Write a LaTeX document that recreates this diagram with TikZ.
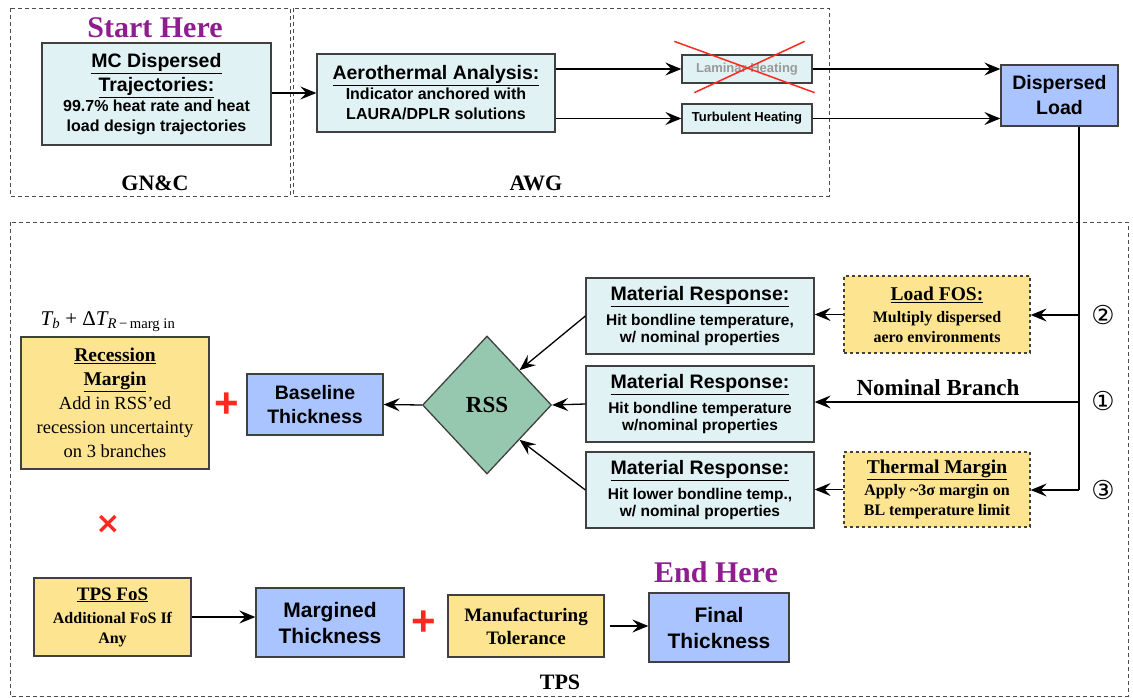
\documentclass[tikz,border=0pt]{standalone}
\usepackage{fontspec}
\setmainfont{Liberation Serif}
\setsansfont{Liberation Sans}
\newfontfamily\symfont{DejaVu Sans}
\usetikzlibrary{arrows.meta, positioning, shapes.geometric, calc}

\definecolor{boxcyan}{RGB}{225,242,244}
\definecolor{boxyellow}{RGB}{253,228,144}
\definecolor{boxblue}{RGB}{170,196,255}
\definecolor{rssgreen}{RGB}{150,200,175}
\definecolor{herepurple}{RGB}{142,30,142}
\definecolor{crossred}{RGB}{255,40,30}

\begin{document}
\begin{tikzpicture}[
    x=1pt, y=-1pt,
    % === STYLES ===
    infobox/.style={
        rectangle,
        draw=black!75,
        fill=boxcyan,
        line width=1.3pt,
        font=\sffamily\bfseries\fontsize{16}{20}\selectfont,
        align=center,
        inner sep=1pt
    },
    marginbox/.style={
        rectangle,
        draw=black!75,
        fill=boxyellow,
        line width=1.3pt,
        font=\rmfamily\bfseries\fontsize{16}{20}\selectfont,
        align=center,
        inner sep=1pt
    },
    thickbox/.style={
        rectangle,
        draw=black!75,
        fill=boxblue,
        line width=1.3pt,
        font=\sffamily\bfseries\fontsize{21}{26}\selectfont,
        align=center,
        inner sep=1pt
    },
    frame/.style={
        draw=black!70,
        dash pattern=on 4pt off 3pt,
        line width=0.9pt
    },
    arrow/.style={
        -{Stealth[length=16pt, width=13pt, inset=6pt]},
        line width=1.3pt,
        color=black
    },
    line/.style={
        line width=1.3pt,
        color=black
    },
    grouplabel/.style={
        font=\rmfamily\bfseries\fontsize{22}{24}\selectfont
    },
    herelabel/.style={
        font=\rmfamily\bfseries\fontsize{30}{32}\selectfont,
        color=herepurple
    },
    redsign/.style={
        font=\sffamily\bfseries\fontsize{42}{42}\selectfont,
        color=crossred
    },
    branchnum/.style={
        font=\symfont\fontsize{26}{26}\selectfont
    }
]
\useasboundingbox (0,0) rectangle (1133,698);

% === GROUP FRAMES ===
\draw[frame] (10,8) rectangle (290,196);
\draw[frame] (293,8) rectangle (829,196);
\draw[frame] (10,222) rectangle (1128,696);
\node[grouplabel] (gnc) at (155,183) {GN\&C};
\node[grouplabel] (awg) at (536,183) {AWG};
\node[grouplabel] (tps) at (560,682) {TPS};

% === GN&C / AWG ===
\node[herelabel] (start) at (155,28) {Start Here};

\node[infobox, minimum width=229, minimum height=102] (mc) at (156.5,94)
    {{\fontsize{19.5}{23}\selectfont\underline{MC Dispersed}}\\[3pt]
     {\fontsize{19.5}{23}\selectfont\underline{Trajectories:}}\\
     99.7\% heat rate and heat\\
     load design trajectories};

\node[infobox, minimum width=238, minimum height=78] (aero) at (436,93)
    {{\fontsize{19.5}{23}\selectfont\underline{Aerothermal Analysis:}}\\
     Indicator anchored with\\
     LAURA/DPLR solutions};

\node[infobox, minimum width=130, minimum height=28, text=black!40,
      font=\sffamily\bfseries\fontsize{13}{15}\selectfont] (lam) at (747,69) {Laminar Heating};
\node[infobox, minimum width=130, minimum height=29,
      font=\sffamily\bfseries\fontsize{13}{15}\selectfont] (turb) at (747,118.5) {Turbulent Heating};

% crossed-out laminar branch
\draw[crossred, line width=1.5pt] ($(lam.north west)+(-7,-13)$) -- ($(lam.south east)+(2,9)$);
\draw[crossred, line width=1.5pt] ($(lam.south west)+(13,9)$) -- ($(lam.north east)+(-8,-13)$);

\node[thickbox, minimum width=117, minimum height=61,
      font=\sffamily\bfseries\fontsize{19.5}{25}\selectfont] (dl) at (1059.5,95.5) {Dispersed\\Load};

% === TPS: BRANCHES ===
\node[infobox, minimum width=228, minimum height=76,
      font=\sffamily\bfseries\fontsize{15.5}{17}\selectfont] (mr1) at (700,316)
    {{\fontsize{19.5}{23}\selectfont\underline{Material Response:}}\\[6pt]
     Hit bondline temperature,\\
     w/ nominal properties};
\node[infobox, minimum width=228, minimum height=76,
      font=\sffamily\bfseries\fontsize{15.5}{17}\selectfont] (mr2) at (700,404)
    {{\fontsize{19.5}{23}\selectfont\underline{Material Response:}}\\[6pt]
     Hit bondline temperature\\
     w/nominal properties};
\node[infobox, minimum width=228, minimum height=76,
      font=\sffamily\bfseries\fontsize{15.5}{17}\selectfont] (mr3) at (700,490)
    {{\fontsize{19.5}{23}\selectfont\underline{Material Response:}}\\[6pt]
     Hit lower bondline temp.,\\
     w/ nominal properties};

\node[marginbox, dashed, minimum width=186, minimum height=77] (fos) at (937,314.5)
    {{\fontsize{19.5}{23}\selectfont\underline{Load FOS:}}\\[2pt]
     Multiply dispersed\\
     aero environments};
\node[marginbox, dashed, minimum width=186, minimum height=75] (therm) at (937,489.5)
    {{\fontsize{19.5}{23}\selectfont\underline{Thermal Margin}}\\[2pt]
     Apply \textasciitilde3σ margin on\\
     BL temperature limit};

\node[font=\rmfamily\bfseries\fontsize{23}{25}\selectfont] (nomlabel) at (938,388) {Nominal Branch};

\coordinate (b2) at (1079,315);
\coordinate (b1) at (1079,402);
\coordinate (b3) at (1079,490);
\node[branchnum] (n2) at (1103,315) {②};
\node[branchnum] (n1) at (1103,401) {①};
\node[branchnum] (n3) at (1103,490) {③};

\node[diamond, draw=black!75, fill=rssgreen, line width=1.3pt, aspect=0.93,
      minimum width=129, minimum height=138, inner sep=0pt,
      font=\rmfamily\bfseries\fontsize{23}{25}\selectfont] (rss) at (487,405) {RSS};

% === TPS: RECESSION / BASELINE ===
\node[font=\rmfamily\itshape\fontsize{21}{22}\selectfont] (formula) at (108,322)
    {T\textsubscript{b} {\upshape +} {\upshape Δ}T\textsubscript{R\,\upshape{−}\,marg in}};

\node[marginbox, minimum width=188, minimum height=132,
      font=\rmfamily\fontsize{18.5}{24}\selectfont] (rec) at (115,403)
    {{\fontsize{19.5}{24}\selectfont\bfseries\underline{Recession}}\\
     {\fontsize{19.5}{24}\selectfont\bfseries\underline{Margin}}\\
     Add in RSS'ed\\
     recession uncertainty\\
     on 3 branches};

\node[redsign] (plus1) at (227,405) {+};
\node[thickbox, minimum width=136, minimum height=61,
      font=\sffamily\bfseries\fontsize{19.5}{24}\selectfont] (base) at (315,404.5) {Baseline\\Thickness};

\node[redsign, font=\symfont\bfseries\fontsize{30}{30}\selectfont] (times) at (108,524) {×};

% === TPS: FINAL THICKNESS ===
\node[marginbox, minimum width=157, minimum height=78] (tpsfos) at (112.5,617)
    {{\fontsize{19}{22}\selectfont\underline{TPS FoS}}\\[3pt]
     Additional FoS If\\
     Any};
\node[thickbox, minimum width=148, minimum height=69] (marg) at (330,622.5) {Margined\\Thickness};
\node[redsign] (plus2) at (424,623) {+};
\node[marginbox, minimum width=156, minimum height=62,
      font=\rmfamily\bfseries\fontsize{19}{23}\selectfont] (manu) at (526,626) {Manufacturing\\Tolerance};
\node[herelabel] (end) at (716,572) {End Here};
\node[thickbox, minimum width=140, minimum height=69] (final) at (719,627.5) {Final\\Thickness};

% === CONNECTIONS ===
\draw[arrow] (mc.east |- aero.west) -- (aero.west);
\draw[arrow] (aero.east |- lam.west) -- (lam.west);
\draw[arrow] (aero.east |- turb.west) -- (turb.west);
\draw[arrow] (lam.east) -- (lam.east -| dl.west);
\draw[arrow] (turb.east) -- (turb.east -| dl.west);

% trunk from dispersed load
\draw[line] (dl.south -| b1) -- (b3);
\draw[arrow] (b2) -- (b2 -| fos.east);
\draw[arrow] (b1) -- (b1 -| mr2.east);
\draw[arrow] (b3) -- (b3 -| therm.east);
\draw[arrow] (fos.west) -- (fos.west -| mr1.east);
\draw[arrow] (therm.west) -- (therm.west -| mr3.east);

% into RSS
\draw[arrow] (mr1.west) -- (rss.north east);
\draw[arrow] (mr2.west) -- (rss.east);
\draw[arrow] (mr3.west) -- (rss.south east);
\draw[arrow] (rss.west) -- (base.east);

% bottom row
\draw[arrow] (tpsfos.east) -- (tpsfos.east -| marg.west);
\draw[arrow, shorten <=5pt] (manu.east) -- (manu.east -| final.west);

\end{tikzpicture}
\end{document}
